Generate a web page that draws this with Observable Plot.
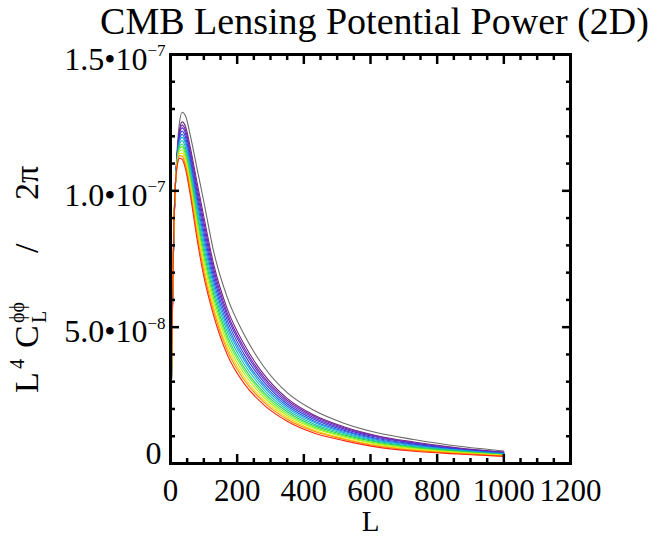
<!DOCTYPE html>
<html>
<head>
<meta charset="utf-8">
<script src="https://cdn.jsdelivr.net/npm/d3@7"></script>
<script src="https://cdn.jsdelivr.net/npm/@observablehq/plot@0.6"></script>
<style>
  html, body { margin: 0; padding: 0; background: #ffffff; }
  #chart { width: 655px; height: 537px; }
</style>
</head>
<body>
<div id="chart"></div>
<script>
// ---- data (values in units of 1e-8) ----
const multipoleL = [2, 5, 10, 15, 20, 27, 35, 45, 60, 80, 100, 130, 170, 220, 280, 350, 430, 520, 620, 730, 860, 1000];
const curve01 = [2.2, 5.0, 8.4, 10.3, 11.5, 12.5, 12.88, 12.75, 12.0, 10.8, 9.6, 7.75, 6.1, 4.75, 3.55, 2.6, 1.95, 1.48, 1.13, 0.88, 0.64, 0.46];
const curve02 = [2.2, 5.06, 8.46, 10.3, 11.38, 12.24, 12.53, 12.36, 11.56, 10.28, 9.05, 7.28, 5.68, 4.39, 3.27, 2.39, 1.78, 1.35, 1.02, 0.79, 0.58, 0.42];
const curve03 = [2.2, 5.08, 8.48, 10.3, 11.34, 12.15, 12.41, 12.22, 11.41, 10.1, 8.86, 7.12, 5.53, 4.26, 3.17, 2.32, 1.73, 1.31, 0.99, 0.76, 0.56, 0.41];
const curve04 = [2.2, 5.1, 8.5, 10.3, 11.3, 12.07, 12.31, 12.11, 11.27, 9.94, 8.69, 6.97, 5.41, 4.16, 3.09, 2.25, 1.68, 1.27, 0.96, 0.74, 0.54, 0.39];
const curve05 = [2.2, 5.12, 8.52, 10.3, 11.26, 11.98, 12.19, 11.97, 11.12, 9.76, 8.5, 6.81, 5.26, 4.03, 2.99, 2.18, 1.62, 1.22, 0.92, 0.71, 0.52, 0.38];
const curve06 = [2.2, 5.14, 8.54, 10.3, 11.22, 11.89, 12.07, 11.83, 10.97, 9.58, 8.31, 6.65, 5.11, 3.9, 2.89, 2.11, 1.56, 1.18, 0.88, 0.68, 0.5, 0.37];
const curve07 = [2.2, 5.16, 8.56, 10.3, 11.18, 11.81, 11.96, 11.72, 10.83, 9.42, 8.14, 6.5, 4.99, 3.8, 2.81, 2.04, 1.51, 1.14, 0.85, 0.65, 0.49, 0.35];
const curve08 = [2.2, 5.18, 8.58, 10.3, 11.14, 11.72, 11.84, 11.58, 10.68, 9.24, 7.95, 6.34, 4.84, 3.67, 2.71, 1.97, 1.45, 1.1, 0.81, 0.62, 0.47, 0.34];
const curve09 = [2.2, 5.2, 8.6, 10.3, 11.1, 11.63, 11.72, 11.44, 10.53, 9.06, 7.76, 6.18, 4.69, 3.54, 2.61, 1.9, 1.39, 1.05, 0.78, 0.59, 0.45, 0.33];
const curve10 = [2.2, 5.22, 8.62, 10.3, 11.06, 11.55, 11.62, 11.33, 10.39, 8.9, 7.59, 6.03, 4.57, 3.44, 2.53, 1.83, 1.34, 1.01, 0.74, 0.57, 0.43, 0.31];
const curve11 = [2.2, 5.24, 8.64, 10.3, 11.02, 11.46, 11.5, 11.19, 10.24, 8.72, 7.4, 5.87, 4.42, 3.31, 2.43, 1.76, 1.29, 0.97, 0.71, 0.54, 0.41, 0.3];
const curve12 = [2.2, 5.26, 8.66, 10.3, 10.98, 11.37, 11.38, 11.05, 10.09, 8.54, 7.21, 5.71, 4.27, 3.18, 2.33, 1.69, 1.23, 0.92, 0.67, 0.51, 0.39, 0.29];
const curve13 = [2.2, 5.28, 8.68, 10.3, 10.94, 11.29, 11.27, 10.94, 9.95, 8.38, 7.04, 5.56, 4.15, 3.08, 2.25, 1.62, 1.18, 0.89, 0.64, 0.48, 0.37, 0.27];
const curve14 = [2.2, 5.3, 8.7, 10.3, 10.9, 11.2, 11.15, 10.8, 9.8, 8.2, 6.85, 5.4, 4.0, 2.95, 2.15, 1.55, 1.12, 0.84, 0.6, 0.45, 0.35, 0.26];
const valueUnit = 1e-8;

const curveNames = ["c01","c02","c03","c04","c05","c06","c07","c08","c09","c10","c11","c12","c13","c14"];
const curveColors = ["#6a6a6a","#6b2a86","#7a20ad","#5a2ac8","#3040d8","#2068e4","#18a0e0","#18c0b0","#20d060","#58f028","#b0f018","#f8d800","#ff8a00","#ff2a10"];

const xTickValues = [0, 200, 400, 600, 800, 1000, 1200];
const xMinorValues = [50,100,150,250,300,350,450,500,550,650,700,750,850,900,950,1050,1100,1150];
const yTickValues = [0, 5e-8, 1e-7, 1.5e-7];
const yMinorValues = [1e-8,2e-8,3e-8,4e-8,6e-8,7e-8,8e-8,9e-8,1.1e-7,1.2e-7,1.3e-7,1.4e-7];
const yTickMantissa = ["0", "5.0•10", "1.0•10", "1.5•10"];
const yTickExponent = ["", "−8", "−7", "−7"];

const titleText = "CMB Lensing Potential Power (2D)";
const xLabelText = "L";

// ---- build tables ----
const allCurves = [curve01,curve02,curve03,curve04,curve05,curve06,curve07,curve08,curve09,curve10,curve11,curve12,curve13,curve14];
const lineRows = [];
allCurves.forEach((vals, ci) => {
  vals.forEach((v, i) => lineRows.push({curve: curveNames[ci], L: multipoleL[i], value: v * valueUnit}));
});
const yLabelRows = yTickValues.map((v, i) => ({v, mant: yTickMantissa[i], exp: yTickExponent[i]}));

const FONT = "Liberation Serif, Times New Roman, serif";
const TICKW = 2.5;

const chart = Plot.plot({
  width: 655,
  height: 537,
  marginLeft: 170,
  marginRight: 85,
  marginTop: 54,
  marginBottom: 74,
  x: {domain: [0, 1200], axis: null},
  y: {domain: [0, 1.5e-7], axis: null},
  color: {domain: curveNames, range: curveColors},
  style: {background: "#ffffff", color: "#000000"},
  marks: [
    Plot.line(lineRows, {x: "L", y: "value", z: "curve", stroke: "curve", strokeWidth: 1.1, curve: "monotone-x"}),
    Plot.frame({stroke: "#000", strokeWidth: 3}),
    // inward ticks on all four sides
    Plot.axisX(xTickValues, {anchor: "bottom", tickSize: -9, strokeWidth: TICKW, fill: "none", label: null}),
    Plot.axisX(xMinorValues, {anchor: "bottom", tickSize: -5, strokeWidth: TICKW, fill: "none", label: null}),
    Plot.axisX(xTickValues, {anchor: "top", tickSize: -9, strokeWidth: TICKW, fill: "none", label: null}),
    Plot.axisX(xMinorValues, {anchor: "top", tickSize: -5, strokeWidth: TICKW, fill: "none", label: null}),
    Plot.axisY(yTickValues, {anchor: "left", tickSize: -9, strokeWidth: TICKW, fill: "none", label: null}),
    Plot.axisY(yMinorValues, {anchor: "left", tickSize: -5, strokeWidth: TICKW, fill: "none", label: null}),
    Plot.axisY(yTickValues, {anchor: "right", tickSize: -9, strokeWidth: TICKW, fill: "none", label: null}),
    Plot.axisY(yMinorValues, {anchor: "right", tickSize: -5, strokeWidth: TICKW, fill: "none", label: null}),
    // x tick labels
    Plot.text(xTickValues, {x: d => d, frameAnchor: "bottom", lineAnchor: "bottom", dy: 37, text: d => String(d), fontSize: 31, fontFamily: FONT, fill: "#000"}),
    // y tick labels (mantissa + exponent)
    Plot.text(yLabelRows.filter(d => d.exp !== ""), {y: "v", frameAnchor: "left", textAnchor: "end", dx: -23, dy: 5, text: "mant", fontSize: 32, fontFamily: FONT, fill: "#000"}),
    Plot.text(yLabelRows.filter(d => d.exp !== ""), {y: "v", frameAnchor: "left", textAnchor: "start", dx: -23, dy: -4, text: "exp", fontSize: 17, fontFamily: FONT, fill: "#000"}),
    Plot.text(yLabelRows.filter(d => d.exp === ""), {y: "v", frameAnchor: "left", textAnchor: "end", dx: -9, dy: -10, text: "mant", fontSize: 32, fontFamily: FONT, fill: "#000"}),
    // title and x label
    Plot.text([titleText], {frameAnchor: "top", lineAnchor: "bottom", dx: 4, dy: -21, text: d => d, fontSize: 38, fontFamily: FONT, fill: "#000"}),
    Plot.text([xLabelText], {frameAnchor: "bottom", lineAnchor: "bottom", dy: 67, text: d => d, fontSize: 29, fontFamily: FONT, fill: "#000"})
  ]
});
document.getElementById("chart").appendChild(chart);

// y-axis title with stacked sub/superscripts
const svg = d3.select(chart.tagName.toLowerCase() === "svg" ? chart : chart.querySelector("svg"));
const yt = svg.append("text")
  .attr("transform", "translate(38,393) rotate(-90)")
  .attr("text-anchor", "start")
  .attr("fill", "#000")
  .style("font-family", FONT)
  .style("font-size", "34px");
yt.append("tspan").attr("x", 0).text("L");
yt.append("tspan").attr("x", 24).attr("dy", -14).style("font-size", "20px").text("4");
yt.append("tspan").attr("x", 45).attr("dy", 14).text("C");
yt.append("tspan").attr("x", 70).attr("dy", 8).style("font-size", "20px").text("L");
yt.append("tspan").attr("x", 70).attr("dy", -22).style("font-size", "20px").text("ϕϕ");
yt.append("tspan").attr("x", 140).attr("dy", 14).text("/");
yt.append("tspan").attr("x", 193).text("2π");
</script>
</body>
</html>
